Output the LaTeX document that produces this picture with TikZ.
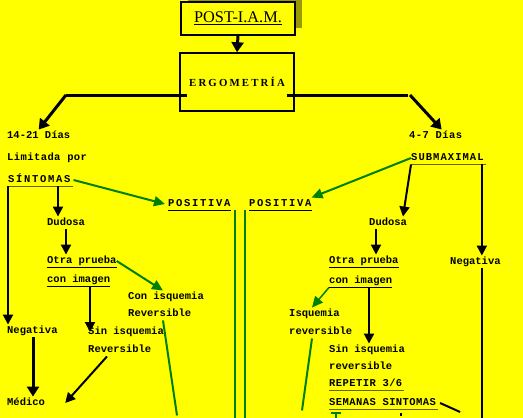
\documentclass[tikz,border=0pt]{standalone}
\usepackage{fontspec}
\setmainfont{Liberation Serif}
\newfontfamily\letra{Liberation Mono}
\newfontfamily\letrab[LetterSpace=4]{Liberation Mono}
\newfontfamily\letrac[LetterSpace=10]{Liberation Mono}
\newfontfamily\letrad[LetterSpace=16]{Liberation Mono}
\newfontfamily\titulo[LetterSpace=20]{Liberation Serif}
\usetikzlibrary{arrows.meta,positioning,shadows}

\definecolor{amarillo}{RGB}{255,255,0}
\definecolor{oliva}{RGB}{153,153,0}
\definecolor{verdeflecha}{RGB}{0,128,0}
\definecolor{subraya}{RGB}{102,102,0}

\tikzset{
  texto/.style={anchor=west, inner xsep=0pt, inner ysep=1.5pt, yshift=-1pt,
    text height=7pt, text depth=2.5pt, font=\letra\bfseries\fontsize{10.5}{12}\selectfont},
  leve/.style={font=\letrab\bfseries\fontsize{10.5}{12}\selectfont},
  media/.style={font=\letrac\bfseries\fontsize{10.5}{12}\selectfont},
  ancha/.style={font=\letrad\bfseries\fontsize{10.5}{12}\selectfont},
  caja/.style={draw, line width=1.5pt, fill=amarillo},
  flecha/.style={line width=3pt, -{Triangle[length=10pt,width=12pt]}},
  flechita/.style={line width=2pt, -{Triangle[length=10pt,width=10pt]}},
  flechaverde/.style={draw=verdeflecha, line width=2pt, -{Triangle[length=11pt,width=10pt]}},
  lineaverde/.style={draw=verdeflecha, line width=2pt}
}

\begin{document}
\begin{tikzpicture}[x=1pt, y=-1pt]
  % Fondo amarillo y margenes
  \fill[amarillo] (0,0) rectangle (523,418);
  \useasboundingbox (0,0) rectangle (523,418);

  % Cajas de arriba
  \node[caja, minimum width=114pt, minimum height=33pt,
    drop shadow={shadow xshift=7pt, shadow yshift=7pt, fill=oliva, opacity=1},
    font=\fontsize{16.3}{18}\selectfont] (post) at (238,18.5) {\underline{POST-I.A.M.}};
  \node[caja, minimum width=114pt, minimum height=58pt,
    font=\titulo\bfseries\fontsize{10.8}{12}\selectfont] (ergo) at (237,82) {ERGOMETRÍA};

  % Rama izquierda
  \node[texto] (d14) at (7,135) {14-21 Días};
  \node[texto, leve] (lim) at (7,157) {Limitada por};
  \node[texto, ancha] (sint) at (8,179) {SÍNTOMAS};
  \node[texto] (dud1) at (47,222) {Dudosa};
  \node[texto] (otra1) at (47,260) {Otra prueba};
  \node[texto] (cimg1) at (47,279) {con imagen};
  \node[texto] (con1) at (128,296) {Con isquemia};
  \node[texto] (con2) at (128,313) {Reversible};
  \node[texto] (neg1) at (7,330) {Negativa};
  \node[texto] (sin1) at (88,331) {Sin isquemia};
  \node[texto] (sinr1) at (88,349) {Reversible};
  \node[texto] (med) at (7,402) {Médico};

  % Centro
  \node[texto, ancha] (pos1) at (168,203) {POSITIVA};
  \node[texto, ancha] (pos2) at (249,203) {POSITIVA};

  % Rama derecha
  \node[texto, leve] (d47) at (409,135) {4-7 Días};
  \node[texto, media] (subm) at (411,157) {SUBMAXIMAL};
  \node[texto] (dud2) at (369,222) {Dudosa};
  \node[texto] (otra2) at (329,260) {Otra prueba};
  \node[texto] (cimg2) at (329,280) {con imagen};
  \node[texto] (neg2) at (450,261) {Negativa};
  \node[texto] (isq) at (289,313) {Isquemia};
  \node[texto] (isqr) at (289,331) {reversible};
  \node[texto] (sin2) at (329,349) {Sin isquemia};
  \node[texto] (sinr2) at (329,366) {reversible};
  \node[texto, leve] (rep) at (329,383) {REPETIR 3/6};
  \node[texto, leve] (sem) at (329,402) {SEMANAS SINTOMAS};

  % Subrayados
  \foreach \n in {otra1,cimg1,otra2,cimg2,pos1,pos2}
    \draw[line width=1pt] (\n.south west) -- (\n.south east);
  \foreach \n in {sint,subm,rep,sem}
    \draw[subraya, line width=1.2pt] (\n.south west) -- ([xshift=2pt]\n.south east);

  % Ergometria y sus dos ramas
  \draw[flecha] (post.south) -- (ergo.north);
  \coordinate (izq) at (66,95);
  \coordinate (der) at (408,95);
  \draw[line width=3pt] (izq) -- ([xshift=8pt]ergo.west |- izq);
  \draw[line width=3pt] ([xshift=-8pt]ergo.east |- der) -- (der);
  \draw[flecha] (izq) -- (d14.north);
  \draw[flecha] ([xshift=2pt]der) -- ([xshift=6pt]d47.north);

  % Flechas verdes hacia POSITIVA
  \draw[flechaverde] ([xshift=3pt]sint.east) -- ([xshift=-3pt]pos1.west);
  \draw[flechaverde] (subm.west) -- (pos2.north east);
  \draw[lineaverde] ([xshift=4pt]pos1.south east) -- ++(0,210);
  \draw[lineaverde] ([xshift=-4pt]pos2.south west) -- ++(0,210);

  % Izquierda
  \draw[flechita] (sint.south west) -- (sint.south west |- neg1.north);
  \draw[flechita] ([xshift=11pt]dud1.north west |- sint.south) -- ([xshift=11pt]dud1.north west);
  \draw[flechita] ([xshift=19pt]dud1.south west) -- ([xshift=19pt]otra1.north west);
  \draw[flechaverde] (otra1.east) -- ([xshift=35pt]con1.north west);
  \draw[lineaverde] ([xshift=35pt]con2.south west) -- ++(14,95);
  \draw[flechita] ([xshift=43pt]cimg1.south west) -- ([xshift=43pt]cimg1.south west |- sin1.west);
  \draw[flechita] ([xshift=19pt]sinr1.south west) -- ([xshift=20pt]med.east);
  \draw[flecha] ([xshift=26pt]neg1.south west) -- ([xshift=26pt]med.north west);

  % Derecha
  \draw[flechita] (subm.south west) -- ([xshift=34pt]dud2.north west);
  \draw[flechita] ([xshift=-2pt]subm.south east) -- ([xshift=-2pt]subm.south east |- neg2.north);
  \draw[line width=2pt] ([xshift=32pt]neg2.south west) -- ++(0,152);
  \draw[flechita] ([xshift=7pt]dud2.south west) -- ([xshift=47pt]otra2.north west);
  \draw[flechaverde, line width=1.5pt] (cimg2.south west) -- ([xshift=23pt]isq.north west);
  \draw[flechita] ([xshift=40pt]cimg2.south west) -- ([xshift=40pt]sin2.north west);
  \draw[lineaverde] ([xshift=23pt]isqr.south west) -- ++(-10,72);
  \draw[line width=2pt] ([xshift=4pt]sem.east) -- ++(20,9);
  \draw[verdeflecha, line width=1.5pt, {Bar[width=10pt]}-] ([xshift=7pt,yshift=-3pt]sem.south west) -- ++(0,12);
  \draw[line width=1.5pt] ([xshift=72pt,yshift=-4pt]sem.south west) -- ++(0,3);
\end{tikzpicture}
\end{document}
